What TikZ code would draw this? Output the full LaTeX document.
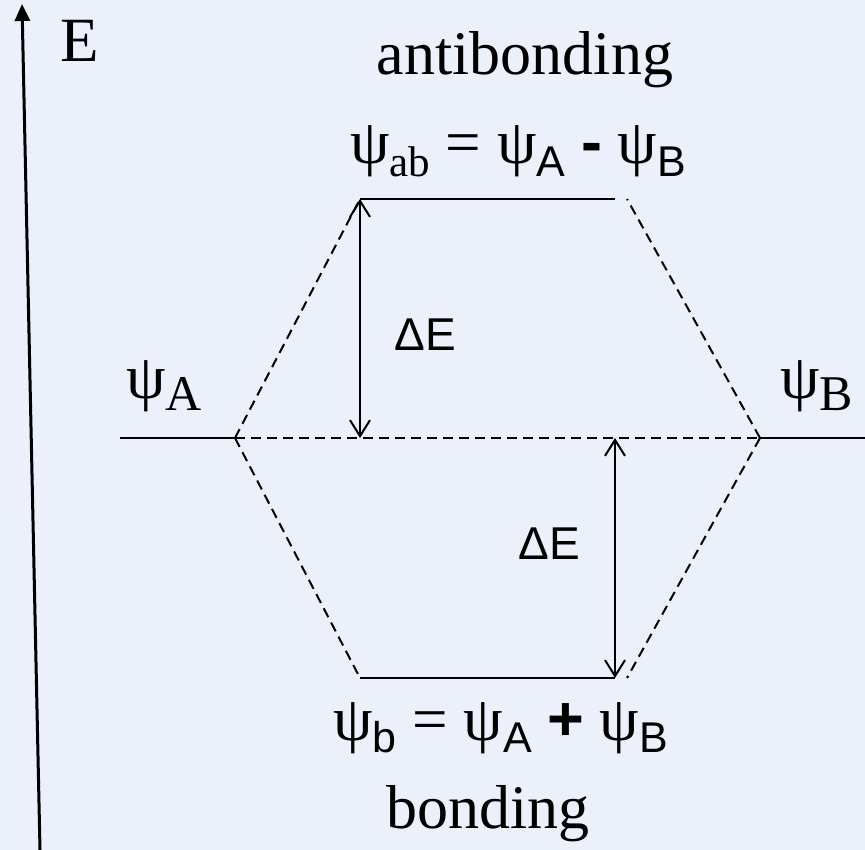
\documentclass[tikz,border=0pt]{standalone}
\usepackage{fontspec}
\setmainfont{Liberation Serif}
\newfontfamily\sansf{Liberation Sans}
\usetikzlibrary{arrows.meta}
\definecolor{slidebg}{RGB}{236,240,250}
\newcommand{\bigfont}{\fontsize{62}{66}\selectfont}
\newcommand{\eqfont}{\fontsize{63}{66}\selectfont}
\newcommand{\subfont}{\fontsize{43}{45}\selectfont}
\newcommand{\sidesub}{\fontsize{50}{52}\selectfont}
% wave function with serif / sans subscript
\newcommand{\wfn}[1]{ψ\raisebox{-0.2em}{\subfont #1}}
\newcommand{\wfs}[1]{ψ\raisebox{-0.2em}{\subfont\sansf #1}}
\newcommand{\wfside}[1]{ψ\raisebox{-0.2em}{\sidesub #1}}

\tikzset{
  level/.style={line width=2pt},
  corr/.style={line width=2pt, dash pattern=on 10pt off 6pt},
  gap/.style={line width=2pt, {Straight Barb[length=16pt,width=20pt]}-{Straight Barb[length=16pt,width=20pt]}},
}

\begin{document}
\begin{tikzpicture}[x=1pt, y=-1pt]
    \fill[slidebg] (0,0) rectangle (865,850);
    \useasboundingbox (0,0) rectangle (865,850);
    % energy axis
    \coordinate (axbot) at (40,850);
    \coordinate (axtop) at (22,4);
    \draw[line width=3pt, -{Triangle[length=17pt,width=15pt]}] (axbot) -- (axtop);
    \node[anchor=base] (elabel) at (80,62) {\fontsize{63}{66}\selectfont E};
    % level ends
    \coordinate (la) at (120,438);
    \coordinate (ra) at (235,438);
    \coordinate (lb) at (760,438);
    \coordinate (rb) at (865,438);
    \coordinate (abl) at (360,199);
    \coordinate (abr) at (615,199);
    \coordinate (bl) at (360,678);
    \coordinate (br) at (615,678);
    \coordinate (abd) at (627,199);
    \coordinate (bd) at (627,678);
    \draw[level] (la) -- (ra);
    \draw[level] (lb) -- (rb);
    \draw[level] (abl) -- (abr);
    \draw[level] (bl) -- (br);
    \draw[corr] (ra) -- (lb);
    \draw[corr] (ra) -- (abl);
    \draw[corr] (ra) -- (bl);
    \draw[corr] (lb) -- (abd);
    \draw[corr] (lb) -- (bd);
    \draw[gap] (abl) -- (abl |- ra);
    \draw[gap] (br |- ra) -- (br);
    % labels
    \node[anchor=base] (anti) at (525,75) {\bigfont antibonding};
    \node[anchor=base] (bond) at (488,828) {\bigfont bonding};
    \node[anchor=base west, inner sep=0] (psiab) at (350,164)
        {\eqfont\wfn{ab} = \wfs{A} {\sansf\bfseries -} \wfs{B}};
    \node[anchor=base west, inner sep=0] (psib) at (333,740)
        {\eqfont\wfs{b} = \wfs{A} {\sansf\bfseries +} \wfs{B}};
    \node[anchor=base west, inner sep=0] (psia) at (126,398) {\eqfont\wfside{A}};
    \node[anchor=base west, inner sep=0] (psibb) at (780,398) {\eqfont\wfside{B}};
    \node[anchor=base] (dea) at (425,351) {\fontsize{46}{48}\selectfont\sansf ΔE};
    \node[anchor=base] (deb) at (549,559) {\fontsize{46}{48}\selectfont\sansf ΔE};
\end{tikzpicture}
\end{document}
